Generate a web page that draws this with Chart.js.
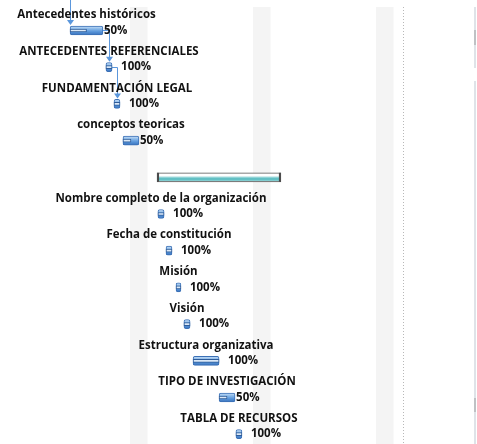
<!DOCTYPE html>
<html><head><meta charset="utf-8">
<script src="https://cdn.jsdelivr.net/npm/chart.js@4/dist/chart.umd.min.js"></script>
<style>html,body{margin:0;padding:0;background:#fff;overflow:hidden}#wrap{width:477px;height:444px;position:relative}</style>
</head><body><div id="wrap"><canvas id="c" width="477" height="444"></canvas></div>
<script>
// ---- data (days from project origin) ----
const taskNames = ["Antecedentes históricos","ANTECEDENTES REFERENCIALES","FUNDAMENTACIÓN LEGAL","conceptos teoricas","","Nombre completo de la organización","Fecha de constitución","Misión","Visión","Estructura organizativa","TIPO DE INVESTIGACIÓN","TABLA DE RECURSOS"];
const taskStart = [3.59,5.63,6.09,6.60,8.54,8.59,9.05,9.62,10.07,10.59,12.07,13.03];
const taskEnd   = [5.46,5.98,6.43,7.51,15.59,8.94,9.39,9.90,10.42,12.07,12.98,13.37];
const percentComplete = [50,100,100,50,null,100,100,100,100,100,50,100];
const isSummary = [false,false,false,false,true,false,false,false,false,false,false,false];
const links = [[0,1],[1,2]];
const incomingFromAbove = [0];
const nonWorkingDays = [7,14,21];
const statusDate = 22.54;

const FONT = '"Open Sans", "Liberation Sans", Arial, sans-serif';
const TEXT = '#111111';

const taskData = taskStart.map((s,i)=>({x:[s,taskEnd[i]], y:i}));
const progressData = [];
taskStart.forEach((s,i)=>{ if(!isSummary[i] && percentComplete[i]!=null){ progressData.push({x:[s, s+(taskEnd[i]-s)*percentComplete[i]/100], y:i}); } });

function barFill(ctx){
  const i = ctx.dataIndex, ch = ctx.chart;
  if (isSummary[i]) return '#ffffff';
  const ys = ch.scales && ch.scales.y;
  const yc = ys ? ys.getPixelForValue(i) : NaN;
  if (!isFinite(yc)) return '#6aa3de';
  const g = ch.ctx.createLinearGradient(0, yc-4.5, 0, yc+4.5);
  g.addColorStop(0,'#cfe3f7');
  g.addColorStop(0.3,'#8dbbea');
  g.addColorStop(0.65,'#5693d8');
  g.addColorStop(1,'#3a72bb');
  return g;
}

const bgPlugin = {
  id:'bg',
  beforeDatasetsDraw(chart){
    const c = chart.ctx, xs = chart.scales.x, ys = chart.scales.y, H = chart.height;
    c.save();
    c.fillStyle = '#f4f4f4';
    nonWorkingDays.forEach(d=>{
      const x1 = xs.getPixelForValue(d), x2 = xs.getPixelForValue(d+1);
      c.fillRect(x1, 7, x2-x1, H-7);
    });
    const sx = Math.round(xs.getPixelForValue(statusDate))+0.5;
    c.strokeStyle = '#b8b8b8'; c.lineWidth = 1; c.setLineDash([1,2]);
    c.beginPath(); c.moveTo(sx,7); c.lineTo(sx,H); c.stroke();
    c.setLineDash([]);
    c.fillStyle = '#dfe3e8'; c.fillRect(474,7,2,H-7);
    c.fillStyle = '#bfc1c4'; c.fillRect(474,30,2,15); c.fillRect(474,398,2,14);
    c.fillStyle = '#ffffff'; c.fillRect(474,68,2,13);
    c.strokeStyle = '#5b97dc'; c.fillStyle = '#5b97dc'; c.lineWidth = 1;
    const half = 4.5;
    function arrow(x, tipY){
      c.beginPath(); c.moveTo(x-3.5, tipY-5); c.lineTo(x+3.5, tipY-5); c.lineTo(x, tipY); c.closePath(); c.fill();
    }
    incomingFromAbove.forEach(t=>{
      const x = Math.round(xs.getPixelForValue(taskStart[t]))+0.5;
      const top = ys.getPixelForValue(t)-half;
      c.beginPath(); c.moveTo(x,0); c.lineTo(x,top-4); c.stroke();
      arrow(x, top-1);
    });
    links.forEach(([a,b])=>{
      const x0 = xs.getPixelForValue(taskEnd[a]);
      const y0 = Math.round(ys.getPixelForValue(a))+0.5;
      const xt = Math.round(xs.getPixelForValue((taskStart[b]+taskEnd[b])/2))+0.5;
      const top = ys.getPixelForValue(b)-half;
      c.beginPath(); c.moveTo(x0,y0); c.lineTo(xt,y0); c.lineTo(xt,top-4); c.stroke();
      arrow(xt, top-1);
    });
    c.restore();
  }
};

const labelPlugin = {
  id:'labels',
  afterDatasetsDraw(chart){
    const c = chart.ctx, xs = chart.scales.x, ys = chart.scales.y;
    c.save();
    const meta = chart.getDatasetMeta(0);
    taskNames.forEach((n,i)=>{
      if(!isSummary[i]) return;
      const el = meta.data[i];
      const l = Math.min(el.base, el.x), r = Math.max(el.base, el.x);
      const top = el.y - el.height/2, bot = el.y + el.height/2;
      c.fillStyle = '#63c0c4'; c.fillRect(l+1, el.y-0.5, r-l-2, bot-el.y-0.5);
      c.fillStyle = '#9ad8da'; c.fillRect(l+1, el.y-0.5, r-l-2, 1);
      c.fillStyle = '#4a4a4a'; c.fillRect(l, top, 2, bot-top); c.fillRect(r-2, top, 2, bot-top);
    });
    c.fillStyle = TEXT;
    c.textBaseline = 'middle';
    taskNames.forEach((n,i)=>{
      const yc = ys.getPixelForValue(i);
      const xa = xs.getPixelForValue(taskStart[i]), xb = xs.getPixelForValue(taskEnd[i]);
      if(n){
        c.font = 'bold 11.5px '+FONT; c.textAlign = 'center';
        c.fillText(n, (xa+xb)/2, yc-15.5);
      }
      if(percentComplete[i]!=null){
        c.font = 'bold 11.5px '+FONT; c.textAlign = 'left';
        c.fillText(percentComplete[i]+'%', xb + (percentComplete[i]===100 ? 9 : 1), yc);
      }
    });
    c.restore();
  }
};

new Chart(document.getElementById('c'), {
  type:'bar',
  data:{ datasets:[
    { label:'Tareas', data: taskData, backgroundColor: barFill,
      borderColor: (ctx)=> isSummary[ctx.dataIndex] ? '#505050' : '#3b70b6',
      borderWidth: 1, borderSkipped: false,
      borderRadius: (ctx)=> isSummary[ctx.dataIndex] ? 0 : 2,
      barThickness: 9, grouped: false, order: 2 },
    { label:'Progreso', data: progressData, backgroundColor:'#dbe9f8', borderColor:'#2f5c99',
      borderWidth: 1, borderSkipped: false, barThickness: 3, grouped: false, order: 1 }
  ]},
  options:{
    indexAxis:'y', responsive:false, animation:false,
    layout:{padding:0},
    plugins:{legend:{display:false}, tooltip:{enabled:false}},
    scales:{
      x:{type:'linear', min:-0.398, max:26.75, display:false, offset:false},
      y:{type:'linear', reverse:true, min:-0.831, max:11.267, display:false, offset:false}
    }
  },
  plugins:[bgPlugin, labelPlugin]
});
</script></body></html>
